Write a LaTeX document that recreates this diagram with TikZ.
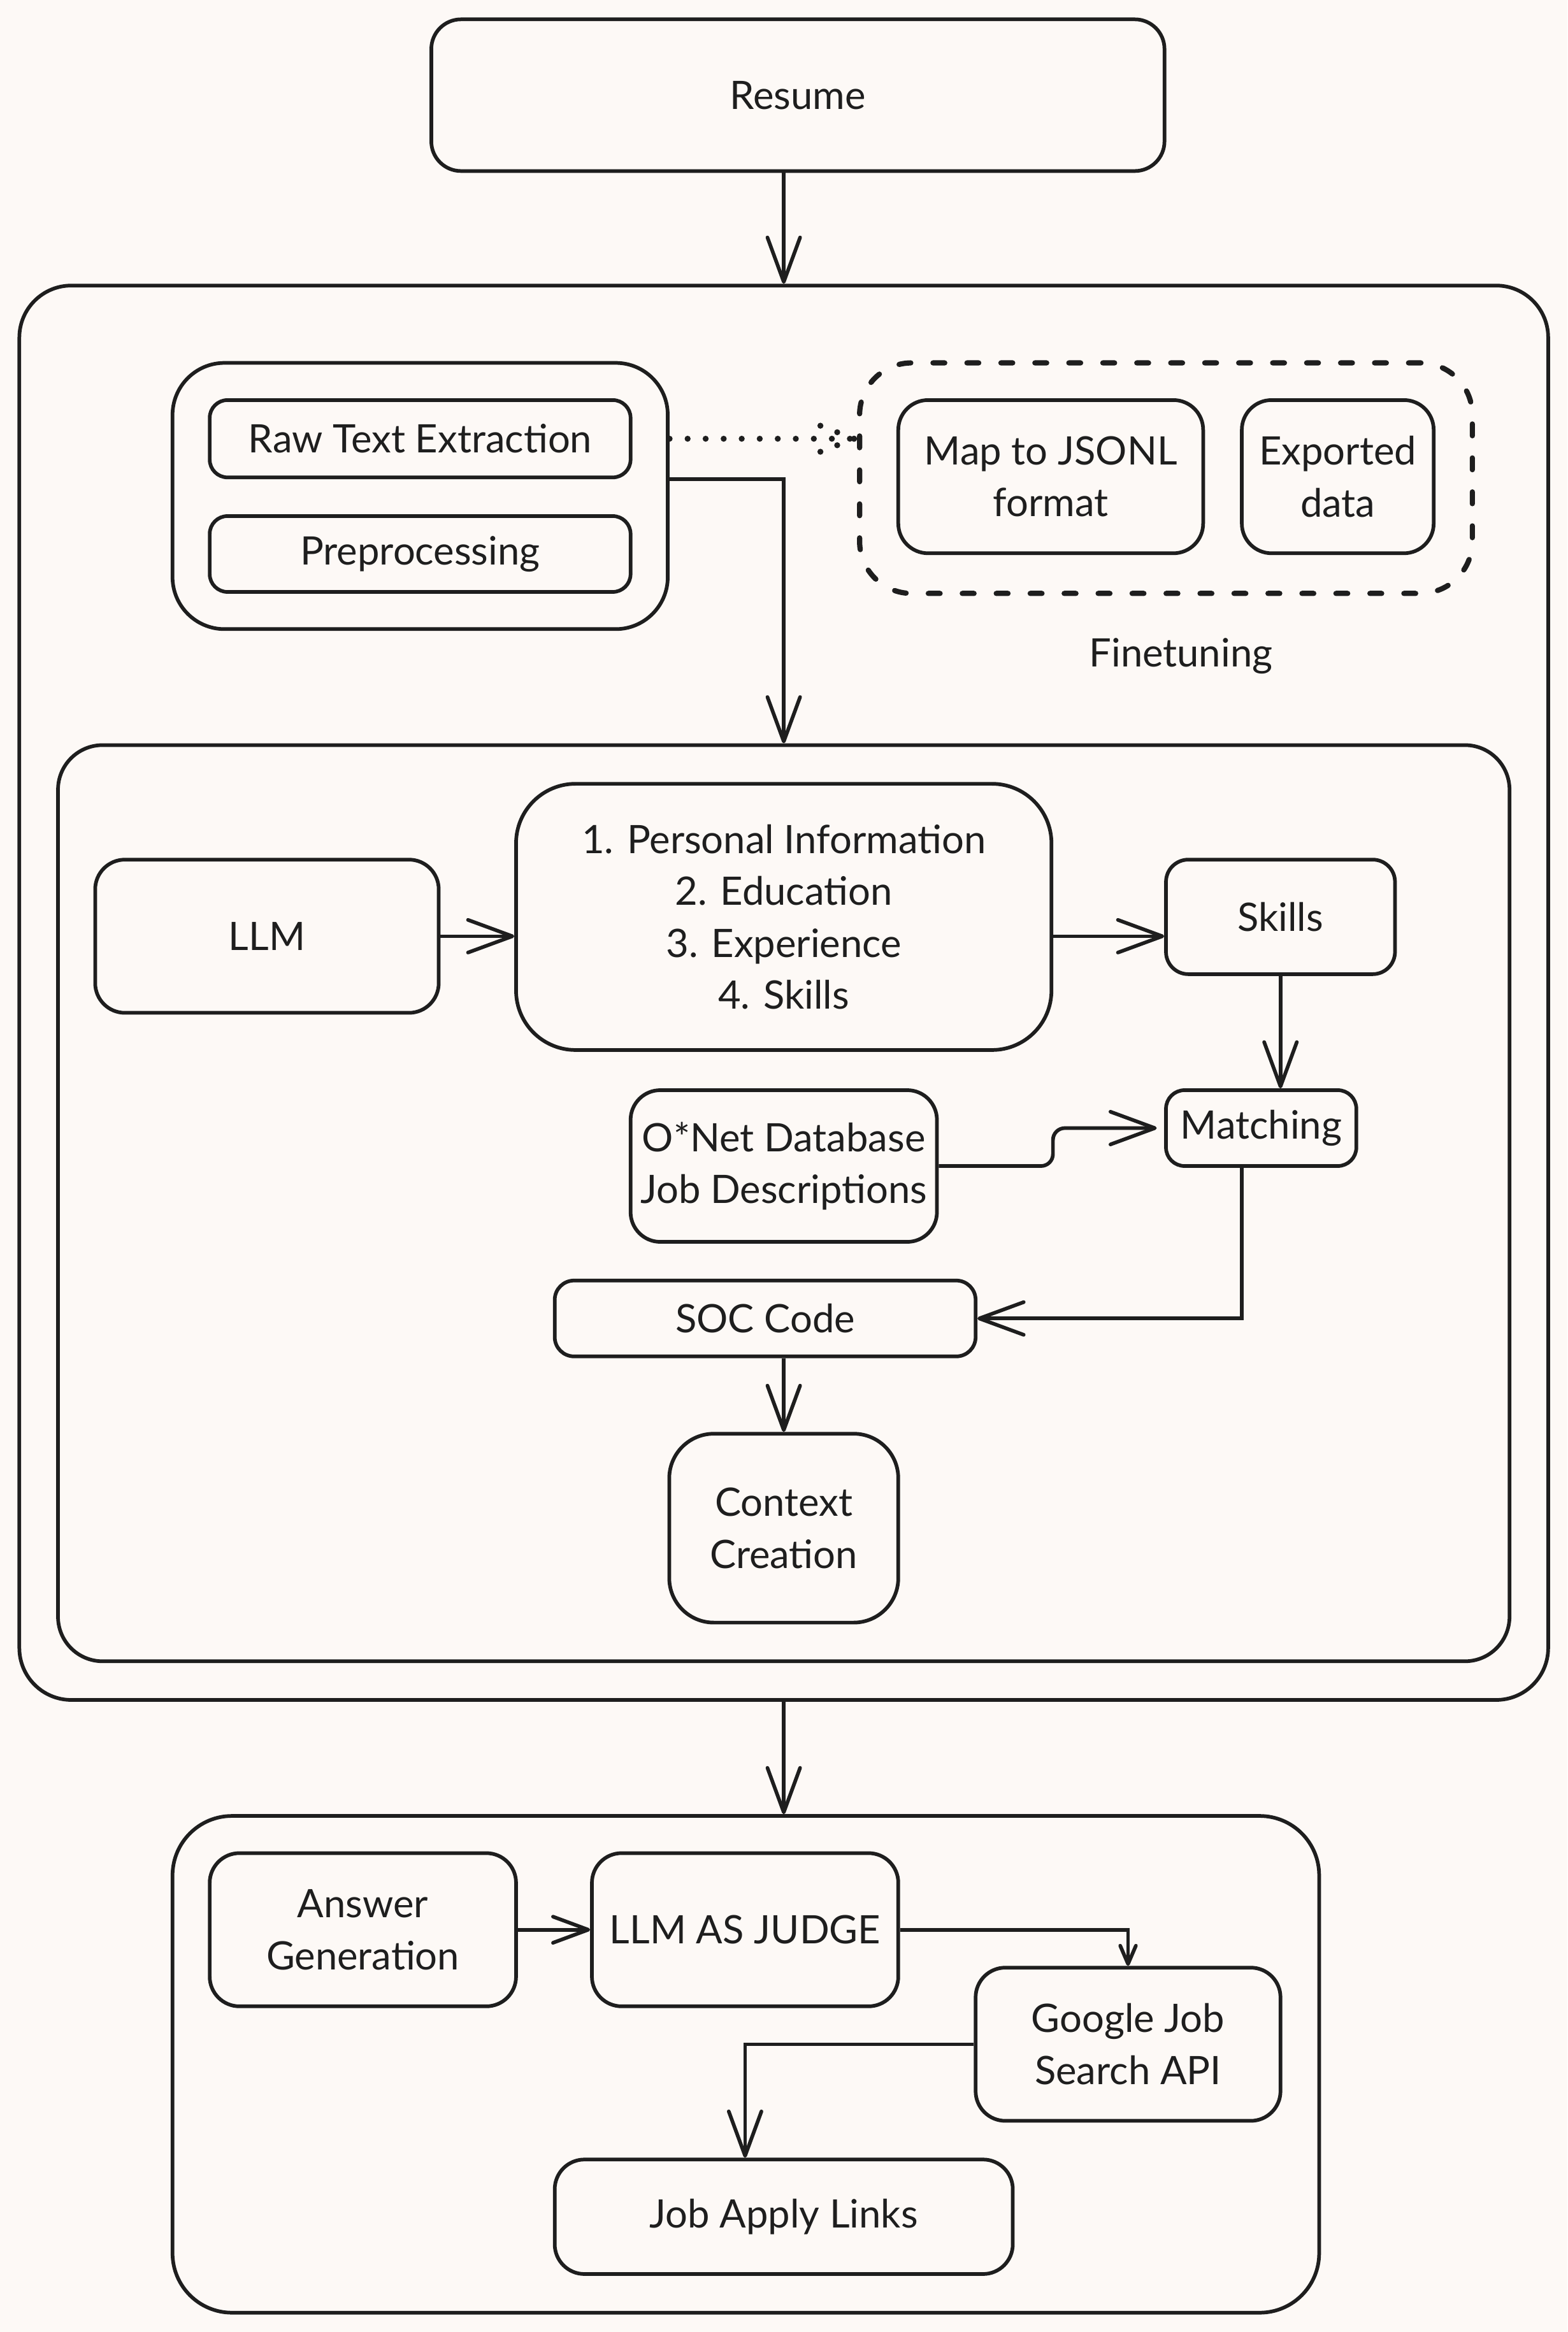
\documentclass[tikz,border=0pt]{standalone}
\usepackage{fontspec}
\setmainfont{Lato}
\usetikzlibrary{arrows.meta,calc}
\definecolor{bg}{HTML}{FDF9F6}
\definecolor{ink}{HTML}{1E1E1E}
\newlength\uu
\setlength\uu{0.02cm}
\newcommand\fs{\fontsize{15}{19.9}\selectfont}
% #1 options, #2 name, #3 x1, #4 y1, #5 x2, #6 y2, #7 text
\newcommand\bnode[7]{%
  \pgfmathsetmacro\bcx{(#3+#5)/2}%
  \pgfmathsetmacro\bcy{(#4+#6)/2}%
  \pgfmathsetmacro\bww{#5-#3}%
  \pgfmathsetmacro\bhh{#6-#4}%
  \node[box,#1,minimum width=\bww\uu,minimum height=\bhh\uu] (#2) at (\bcx,\bcy) {#7};}
\begin{document}
\begin{tikzpicture}[x=\uu,y=-\uu,
  box/.style={draw=ink,line width=1.4pt,align=center,inner sep=0pt,text=ink,font=\fs},
  lbl/.style={text=ink,font=\fs,inner sep=0pt},
  dashedbox/.style={line width=2pt,line cap=round,dash pattern=on 4.5pt off 8.5pt},
  arr/.style={draw=ink,line width=1.4pt,-{Straight Barb[length=17pt,width=12.5pt,round]}},
  arrm/.style={draw=ink,line width=1.4pt,-{Straight Barb[length=13.5pt,width=10pt,round]}},
  arrs/.style={draw=ink,line width=1.4pt,-{Straight Barb[length=7pt,width=6pt,round]}},
  dotline/.style={draw=ink,line width=2.3pt,line cap=round,dash pattern=on 0pt off 6.9pt}
]
\fill[bg] (0,0) rectangle (1054,1568);
\useasboundingbox (0,0) rectangle (1054,1568);

\bnode{rounded corners=0.4cm}{resume}{290}{13}{783}{115}{Resume}
\bnode{rounded corners=0.7cm}{outer}{13}{192}{1041}{1143}{}
\bnode{rounded corners=0.7cm}{group}{116}{244}{449}{423}{}
\bnode{rounded corners=0.24cm}{raw}{141}{269}{424}{321}{Raw Text Extraction}
\bnode{rounded corners=0.24cm}{prep}{141}{347}{424}{398}{Preprocessing}
\bnode{dashedbox,rounded corners=0.7cm}{ft}{578}{244}{990}{399}{}
\bnode{rounded corners=0.4cm}{map}{604}{269}{809}{372}{Map to JSONL\\format}
\bnode{rounded corners=0.4cm}{exp}{835}{269}{964}{372}{Exported\\data}
\node[lbl] (ftlabel) at (794,441) {Finetuning};

\bnode{rounded corners=0.6cm}{inner}{39}{501}{1015}{1117}{}
\bnode{rounded corners=0.4cm}{llm}{64}{578}{295}{681}{LLM}
\bnode{rounded corners=0.8cm}{info}{347}{527}{707}{706}{1. Personal Information\\2. Education\\3. Experience\\4. Skills}
\bnode{rounded corners=0.3cm}{skills}{784}{578}{938}{655}{Skills}
\bnode{rounded corners=0.25cm}{match}{784}{733}{912}{784}{Matching}
\bnode{rounded corners=0.4cm}{onet}{424}{733}{630}{835}{O*Net Database\\Job Descriptions}
\bnode{rounded corners=0.26cm}{soc}{373}{861}{656}{912}{SOC Code}
\bnode{rounded corners=0.6cm}{ctx}{450}{964}{604}{1091}{Context\\Creation}

\bnode{rounded corners=0.8cm}{bottom}{116}{1221}{887}{1555}{}
\bnode{rounded corners=0.4cm}{ans}{141}{1246}{347}{1349}{Answer\\Generation}
\bnode{rounded corners=0.4cm}{judge}{398}{1246}{604}{1349}{LLM AS JUDGE}
\bnode{rounded corners=0.4cm}{google}{656}{1323}{861}{1426}{Google Job\\Search API}
\bnode{rounded corners=0.4cm}{apply}{373}{1452}{681}{1529}{Job Apply Links}

% connectors
\draw[arr] (outer.north |- resume.south) -- (outer.north);
\coordinate (dotend) at ($(ft.west |- raw.east)+(-2,0)$);
\draw[dotline] (group.east |- raw.east) -- (dotend);
\draw[dotline] (dotend) -- ($(dotend)+(-31,-12)$);
\draw[dotline] (dotend) -- ($(dotend)+(-31,12)$);
\draw[arr] (group.east |- raw.south) -| (inner.north);

\draw[arr] (llm.east) -- (info.west |- llm.east);
\draw[arr] (info.east |- llm.east) -- (skills.west |- llm.east);
\draw[arr] (skills.south) -- (skills.south |- match.north);
\coordinate (step) at (708,780);
\coordinate (mtip) at ($(match.west)+(-5,0)$);
\draw[arr, rounded corners=0.16cm] (onet.east) -- (onet.east -| step) -- (step |- match.west) -- (mtip);
\coordinate (mdrop) at ($(match.south)+(-13,0)$);
\draw[arr] (mdrop) |- (soc.east);
\draw[arr] (ctx.north |- soc.south) -- (ctx.north);

\draw[arr] (outer.south) -- (outer.south |- bottom.north);
\draw[arrm] (ans.east) -- (judge.west);
\draw[arrs] (judge.east) -| (google.north);
\draw[arr] (google.west) -| (judge.south |- apply.north);
\end{tikzpicture}
\end{document}
